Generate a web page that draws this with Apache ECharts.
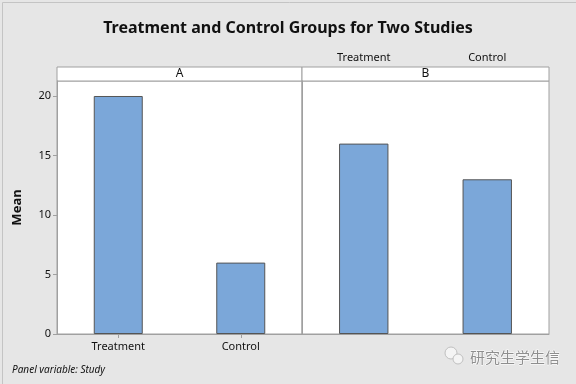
<!DOCTYPE html>
<html><head><meta charset="utf-8">
<script src="https://cdn.jsdelivr.net/npm/echarts@6/dist/echarts.min.js"></script>
<style>html,body{margin:0;padding:0;background:#e6e6e6}#c{width:576px;height:384px}</style>
</head><body><div id="c"></div>
<script>
const titleText = 'Treatment and Control Groups for Two Studies';
const studies = ['A', 'B'];
const groups = ['Treatment', 'Control'];
const meanA = [20, 6];
const meanB = [16, 13];
const yTicks = [0, 5, 10, 15, 20];
const yMax = 21.26;
const yName = 'Mean';
const footnote = 'Panel variable: Study';
const watermark = '研究生学生信';

const font = 'Noto Sans';
const frame = '#a0a0a0';
const barColor = '#7ba7d9';
const chart = echarts.init(document.getElementById('c'));
const yAxisBase = {
  type: 'value', min: 0, max: yMax, interval: 5,
  axisLine: { show: true, lineStyle: { color: frame } },
  splitLine: { show: false }
};
chart.setOption({
  backgroundColor: '#e6e6e6',
  animation: false,
  title: {
    text: titleText, left: 'center', top: 15,
    textStyle: { fontFamily: font, fontSize: 16, fontWeight: 'bold', color: '#111' }
  },
  grid: [
    { left: 57, top: 81, width: 245, height: 253, show: true, backgroundColor: '#fff', borderColor: frame, borderWidth: 1 },
    { left: 302, top: 81, width: 247, height: 253, show: true, backgroundColor: '#fff', borderColor: frame, borderWidth: 1 }
  ],
  xAxis: [
    {
      gridIndex: 0, type: 'category', data: groups, position: 'bottom',
      axisLine: { show: true, lineStyle: { color: frame } },
      axisTick: { show: true, alignWithLabel: true, length: 4, lineStyle: { color: frame } },
      axisLabel: { margin: 7, fontFamily: font, fontSize: 11, color: '#111' }
    },
    {
      gridIndex: 1, type: 'category', data: groups, position: 'top', offset: 14,
      axisLine: { show: true, lineStyle: { color: frame } },
      axisTick: { show: true, alignWithLabel: true, length: 4, lineStyle: { color: frame } },
      axisLabel: { margin: 4, fontFamily: font, fontSize: 11, color: '#111' }
    }
  ],
  yAxis: [
    Object.assign({}, yAxisBase, {
      gridIndex: 0,
      name: yName, nameLocation: 'middle', nameGap: 33, nameRotate: 90,
      nameTextStyle: { fontFamily: font, fontSize: 13, fontWeight: 'bold', color: '#111' },
      axisTick: { show: true, length: 4, customValues: yTicks, lineStyle: { color: frame } },
      axisLabel: { customValues: yTicks, margin: 6, fontFamily: font, fontSize: 11, color: '#111' }
    }),
    Object.assign({}, yAxisBase, {
      gridIndex: 1,
      axisTick: { show: false }, axisLabel: { show: false }
    })
  ],
  series: [
    {
      type: 'bar', xAxisIndex: 0, yAxisIndex: 0, data: meanA, barWidth: '40%',
      itemStyle: { color: barColor, borderColor: '#555', borderWidth: 1 }
    },
    {
      type: 'bar', xAxisIndex: 1, yAxisIndex: 1, data: meanB, barWidth: '40%',
      itemStyle: { color: barColor, borderColor: '#555', borderWidth: 1 }
    }
  ],
  graphic: [
    { type: 'rect', left: 0, top: 0, shape: { width: 575, height: 383 }, style: { fill: 'none', stroke: '#c4c4c4', lineWidth: 1 }, silent: true },
    { type: 'rect', x: 57, y: 67, shape: { width: 245, height: 14 }, style: { fill: '#fff', stroke: frame, lineWidth: 1 } },
    { type: 'rect', x: 302, y: 67, shape: { width: 247, height: 14 }, style: { fill: '#fff', stroke: frame, lineWidth: 1 } },
    { type: 'text', x: 179.5, y: 74, style: { text: studies[0], align: 'center', verticalAlign: 'middle', font: '12px "Noto Sans"', fill: '#111' } },
    { type: 'text', x: 425.5, y: 74, style: { text: studies[1], align: 'center', verticalAlign: 'middle', font: '12px "Noto Sans"', fill: '#111' } },
    { type: 'text', x: 12, y: 370, style: { text: footnote, align: 'left', verticalAlign: 'middle', font: 'italic 10px "Noto Sans"', fill: '#111' } },
    { type: 'circle', shape: { cx: 451, cy: 353, r: 6 }, style: { fill: '#f4f4f4', stroke: '#c0c0c0', lineWidth: 1 } },
    { type: 'circle', shape: { cx: 458, cy: 359, r: 5 }, style: { fill: '#f4f4f4', stroke: '#c0c0c0', lineWidth: 1 } },
    { type: 'text', x: 470, y: 357, style: { text: watermark, align: 'left', verticalAlign: 'middle', font: '15px "Noto Sans CJK SC"', fill: '#8f8f8f', stroke: '#fff', lineWidth: 1 } }
  ]
});
</script></body></html>
